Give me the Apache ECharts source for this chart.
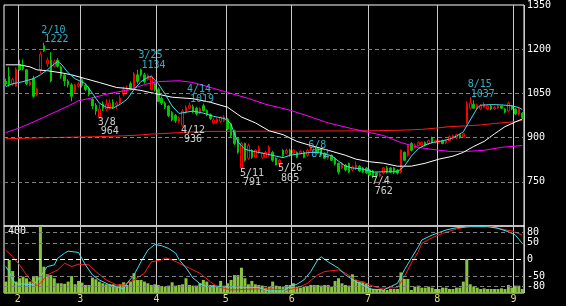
<!DOCTYPE html>
<html><head><meta charset="utf-8">
<script src="https://cdn.jsdelivr.net/npm/echarts@6/dist/echarts.min.js"></script>
<style>html,body{margin:0;padding:0;background:#000;}#c{width:566px;height:306px;}</style>
</head><body><div id="c"></div>
<script>
// Trading days shown (month -> day numbers)
const tradingDays = [
  [1, [26,27,28,31]],
  [2, [1,2,3,4,7,8,9,10,14,15,16,17,18,21,22,24,25,28]],
  [3, [1,2,3,4,7,8,9,10,11,14,15,16,17,18,22,23,24,25,28,29,30,31]],
  [4, [1,4,5,6,7,8,11,12,13,14,15,18,19,20,21,22,25,26,27,28]],
  [5, [2,6,9,10,11,12,13,16,17,18,19,20,23,24,25,26,27,30,31]],
  [6, [1,2,3,6,7,8,9,10,13,14,15,16,17,20,21,22,23,24,27,28,29,30]],
  [7, [1,4,5,6,7,8,11,12,13,14,15,19,20,21,22,25,26,27,28,29]],
  [8, [1,2,3,4,5,8,9,10,12,15,16,17,18,19,22,23,24,25,26,29,30,31]],
  [9, [1,2,5]]
];
const dates = [];
tradingDays.forEach(([m, ds]) => ds.forEach(d => dates.push(m + '/' + d)));

const opens = [1092,1107,1080,1075,1148,1145,1130,1080,1100,1045,1130,1212,1150,1163,1142,1163,1140,1112,1092,1079,1055,1075,1097,1077,1067,1030,1010,970,1013,997,1000,1020,1010,1017,1047,1060,1083,1067,1113,1130,1113,1097,1063,1083,1063,1033,1017,1007,985,975,955,942,985,1000,1005,1000,985,1008,992,978,950,952,955,958,963,947,923,897,797,880,830,857,833,850,833,833,840,850,830,808,857,847,857,847,850,847,850,840,857,853,863,857,847,830,840,830,813,797,807,813,790,797,803,797,797,790,787,780,770,780,797,797,797,790,783,850,840,880,867,873,873,883,880,900,883,883,890,883,890,897,900,910,903,950,1000,1013,1000,997,1003,997,1007,997,1000,1007,997,990,1007,997,980,983];
const closes = [1082,1080,1097,1133,1130,1133,1082,1090,1040,1065,1183,1195,1163,1092,1157,1142,1108,1092,1080,1040,1078,1082,1077,1063,1047,1007,990,997,1000,1013,1017,1003,1017,1033,1063,1067,1063,1117,1090,1113,1090,1110,1107,1063,1023,1017,1003,975,960,958,965,990,1003,1010,988,980,998,992,978,965,960,962,968,970,930,907,880,850,880,823,873,833,857,863,847,850,867,823,807,823,840,857,840,857,833,853,833,857,867,867,850,840,830,840,823,810,783,813,790,783,800,807,787,783,780,773,770,770,777,797,783,783,783,780,857,823,873,857,873,883,883,873,890,883,890,890,880,890,903,907,910,900,913,1013,1017,1000,1010,1007,1013,1007,997,1003,1007,1000,987,1017,997,980,997,967];
const lows = [1075,1073,1075,1072,1127,1128,1078,1075,1035,1040,1117,1190,1140,1088,1138,1138,1100,1075,1070,1023,1050,1070,1070,1057,1040,997,977,964,990,990,995,997,997,1010,1040,1050,1060,1063,1083,1107,1083,1093,1060,1057,1020,1010,997,970,955,950,948,936,980,995,983,975,980,988,973,960,945,948,950,953,925,900,875,845,791,818,825,828,830,845,828,830,835,818,806,805,835,843,835,843,830,843,830,835,853,850,845,835,827,825,820,805,775,793,785,780,785,790,783,780,777,770,762,765,765,775,778,780,777,775,778,820,835,853,862,870,868,870,875,880,880,878,877,878,887,893,895,897,900,945,995,997,995,993,1000,993,993,993,997,997,983,985,993,977,975,963];
const highs = [1100,1140,1102,1138,1164,1165,1133,1095,1110,1070,1193,1222,1172,1190,1165,1170,1145,1118,1098,1085,1082,1090,1103,1083,1073,1037,1017,1013,1023,1030,1030,1030,1023,1043,1073,1077,1090,1123,1130,1134,1120,1117,1113,1090,1070,1040,1023,1010,990,980,972,997,1010,1019,1012,1005,1003,1015,996,982,966,968,972,976,967,950,927,900,885,883,880,860,860,873,850,855,873,855,833,827,860,862,862,860,853,857,855,862,872,870,867,860,850,845,843,833,815,817,810,815,805,820,807,800,800,793,790,783,780,800,803,800,800,793,860,853,877,885,880,887,887,887,893,903,893,893,893,893,907,910,913,913,917,1023,1037,1027,1015,1013,1020,1010,1010,1007,1010,1010,1000,1023,1010,1000,1003,987];
const volumes = [68,197,131,68,88,98,88,68,101,101,400,157,112,107,88,58,58,55,68,101,52,72,62,48,48,92,82,68,58,52,52,52,44,52,64,48,68,118,78,78,68,58,48,52,48,42,38,44,64,44,48,52,88,48,44,44,58,78,68,48,48,44,72,44,58,78,107,107,151,88,52,72,52,48,44,32,38,68,44,38,38,48,48,58,38,32,38,42,48,48,48,44,48,48,38,72,88,58,48,44,112,78,68,68,58,32,24,24,24,18,18,24,24,24,123,84,84,18,38,44,32,32,38,32,24,24,32,32,24,24,32,32,68,203,52,38,32,24,28,24,24,24,24,28,24,48,32,44,44,24];

// Moving averages: [dayIndex, price]
const ma5 = [[0,1073],[2,1083],[5,1090],[8,1100],[10,1113],[12,1130],[14,1150],[15,1158],[16,1150],[18,1120],[20,1100],[23,1083],[25,1050],[27,1017],[29,1003],[31,1000],[33,1013],[35,1030],[37,1063],[39,1090],[41,1105],[42,1107],[44,1083],[46,1047],[48,1007],[50,982],[54,990],[57,983],[60,972],[63,965],[64,958],[65,945],[66,912],[67,885],[69,860],[72,852],[75,845],[78,837],[80,832],[82,840],[86,847],[88,850],[91,848],[94,838],[96,820],[98,803],[100,797],[103,793],[106,783],[109,784],[113,784],[115,803],[117,837],[119,862],[121,875],[123,883],[126,889],[128,895],[130,905],[132,920],[134,960],[136,1000],[137,1010],[140,1012],[143,1011],[146,1008],[148,1002],[149,995]];
const ma25 = [[0,1147],[4,1147],[7,1140],[9,1130],[12,1127],[16,1120],[19,1113],[23,1100],[27,1087],[32,1070],[35,1067],[39,1060],[44,1047],[48,1037],[54,1032],[59,1020],[64,1003],[68,970],[72,950],[76,923],[80,910],[84,887],[88,873],[93,857],[98,840],[101,827],[105,818],[109,813],[113,803],[117,803],[121,813],[125,827],[129,837],[132,850],[135,870],[138,887],[141,913],[144,937],[147,953],[149,963]];
const ma75 = [[0,917],[4,933],[8,953],[13,980],[18,1007],[21,1025],[25,1035],[30,1050],[36,1063],[40,1080],[44,1090],[50,1093],[54,1087],[60,1067],[64,1053],[70,1033],[75,1013],[82,993],[88,970],[93,950],[100,930],[105,917],[109,907],[114,883],[119,867],[123,860],[128,853],[133,853],[138,857],[143,867],[149,873]];
const ma200 = [[0,896],[6,898],[13,900],[26,903],[34,906],[39,909],[42,912],[49,916],[53,919],[58,921],[79,922],[105,923],[114,925],[120,928],[124,932],[128,937],[133,940],[137,943],[141,948],[146,953],[149,958]];

// Oscillator: [dayIndex, value]
const oscFast = [[0,-21],[1,-36],[2,-61],[3,-73],[5,-73],[8,-76],[10,-51],[12,-21],[14,-16],[15,4],[17,19],[18,25],[21,21],[23,-16],[25,-46],[27,-61],[30,-76],[32,-81],[34,-88],[35,-71],[37,-46],[39,-7],[41,28],[43,45],[45,41],[47,33],[49,19],[50,0],[52,-25],[54,-55],[56,-72],[58,-81],[63,-81],[73,-84],[76,-94],[80,-94],[82,-81],[84,-74],[86,-61],[88,-36],[90,-1],[91,8],[93,-7],[96,-26],[98,-46],[101,-66],[104,-81],[105,-88],[109,-91],[111,-81],[113,-71],[115,-31],[117,4],[119,38],[120,58],[123,73],[127,88],[130,95],[134,98],[139,98],[142,93],[145,83],[147,73],[149,48]];
const oscSlow = [[0,28],[2,8],[4,-16],[6,-46],[8,-71],[9,-78],[10,-71],[12,-46],[15,-31],[17,-11],[19,-21],[21,-14],[24,-16],[26,-36],[29,-61],[32,-76],[34,-76],[37,-61],[40,-41],[42,-7],[45,-1],[46,5],[48,-1],[50,-11],[53,-26],[56,-41],[59,-66],[61,-81],[65,-91],[72,-88],[76,-88],[81,-91],[84,-86],[87,-71],[90,-46],[92,-36],[96,-31],[98,-41],[101,-61],[104,-71],[105,-76],[108,-86],[113,-84],[115,-51],[117,-11],[119,23],[120,48],[123,65],[126,78],[130,91],[133,98],[140,98],[143,91],[146,85],[149,73]];

const priceTicks = [750, 900, 1050, 1200, 1350];
const oscTicks = [80, 50, 0, -50, -80];
const volumeTick = 400;
// [date, price, kind]
const extremes = [['2/10',1222,'H'],['3/8',964,'L'],['3/25',1134,'H'],['4/12',936,'L'],['4/14',1019,'H'],['5/11',791,'L'],['5/26',805,'L'],['6/8',872,'H'],['7/4',762,'L'],['8/15',1037,'H']];

// ---- styles ----
const mono = 'DejaVu Sans Mono';
const labelPlace = { H: {dx:-2, dy:-17, color:'#40d8f8'}, L: {dx:-1, dy:-1, color:'#ffffff'} };
const labelNudge = { '6/8': {dy:12} };

const monthStart = new Set();
dates.forEach((d, i) => { if (i > 0 && d.split('/')[0] !== dates[i-1].split('/')[0]) monthStart.add(i); });
const isMonthStart = (i) => monthStart.has(i);

function xAxis(gi) {
  return {
    type: 'category', gridIndex: gi, data: dates, boundaryGap: true,
    axisLine: {show: false}, axisTick: {show: false},
    axisLabel: {show: gi === 1, interval: isMonthStart, formatter: v => v.split('/')[0],
      color: '#e8dc8c', fontFamily: mono, fontSize: 10, margin: 1, padding: [0, 3.5, 0, 0]},
    splitLine: {show: true, interval: isMonthStart, lineStyle: {color: '#c8c8c8', width: 1}}
  };
}
function lineSeries(data, color, xi, yi) {
  return {type: 'line', xAxisIndex: xi, yAxisIndex: yi, data: data, showSymbol: false, symbol: 'none',
    lineStyle: {color: color, width: 1}, itemStyle: {color: color}, silent: true, z: 3};
}

const option = {
  backgroundColor: '#000',
  animation: false,
  grid: [
    {left: 4, top: 2, width: 520, height: 224, show: true, borderColor: '#ffffff', borderWidth: 1, backgroundColor: 'transparent'},
    {left: 4, top: 226, width: 520, height: 67, show: true, borderColor: '#ffffff', borderWidth: 1, backgroundColor: 'transparent'}
  ],
  xAxis: [xAxis(0), xAxis(1)],
  yAxis: [
    {type: 'value', gridIndex: 0, position: 'right', min: 600, max: 1350, interval: 150,
      axisLine: {show: false}, axisTick: {show: false}, splitLine: {show: false},
      axisLabel: {color: '#fff', fontFamily: mono, fontSize: 10, margin: 3, padding: [5, 0, 0, 0],
        formatter: v => priceTicks.includes(v) ? String(v) : ''}},
    {type: 'value', gridIndex: 1, position: 'right', min: -100, max: 100, interval: 10,
      axisLine: {show: false}, axisTick: {show: false}, splitLine: {show: false},
      axisLabel: {color: '#fff', fontFamily: mono, fontSize: 10, margin: 3,
        formatter: v => oscTicks.includes(v) ? String(v) : ''}},
    {type: 'value', gridIndex: 1, position: 'left', min: 0, max: volumeTick, interval: volumeTick,
      axisLine: {show: false}, axisTick: {show: false}, splitLine: {show: false},
      axisLabel: {inside: true, color: '#fff', fontFamily: mono, fontSize: 10, margin: 4, verticalAlign: 'top',
        formatter: v => v === volumeTick ? String(v) : ''}}
  ],
  series: [
    {type: 'line', xAxisIndex: 0, yAxisIndex: 0, data: [], silent: true, z: 1,
      markLine: {silent: true, symbol: ['none', 'none'], label: {show: false}, animation: false,
        lineStyle: {color: '#808080', type: [4, 3], width: 1},
        data: priceTicks.filter(v => v < 1350).map(v => ({yAxis: v}))}},
    {type: 'candlestick', xAxisIndex: 0, yAxisIndex: 0, barWidth: 2, z: 2,
      data: dates.map((_, i) => [opens[i], closes[i], lows[i], highs[i]]),
      itemStyle: {color: '#000000', color0: '#00c800', borderColor: '#ff0000', borderColor0: '#00c800', borderWidth: 1}},
    lineSeries(ma200, '#ff1a1a', 0, 0),
    lineSeries(ma75, '#ff00ff', 0, 0),
    lineSeries(ma25, '#ffffff', 0, 0),
    lineSeries(ma5, '#40e0f0', 0, 0),
    {type: 'scatter', xAxisIndex: 0, yAxisIndex: 0, symbolSize: 1, silent: true, z: 10,
      itemStyle: {color: 'rgba(0,0,0,0)'},
      data: extremes.map(([d, v, k]) => {
        const p = labelPlace[k], n = labelNudge[d] || {};
        return {value: [dates.indexOf(d), v], label: {
          show: true, position: [p.dx + (n.dx || 0), p.dy + (n.dy || 0)], align: 'left', verticalAlign: 'top',
          formatter: '{d|' + d + '}\n{v|' + v + '}',
          rich: {d: {color: p.color, fontFamily: mono, fontSize: 10, lineHeight: 9.5},
                 v: {color: p.color, fontFamily: mono, fontSize: 10, lineHeight: 9.5, padding: [0, 0, 0, 3]}}}};
      })},
    {type: 'bar', xAxisIndex: 1, yAxisIndex: 2, data: volumes, barWidth: 3, silent: true, z: 2,
      itemStyle: {color: '#88c43c'}},
    {type: 'line', xAxisIndex: 1, yAxisIndex: 1, data: [], silent: true, z: 2,
      markLine: {silent: true, symbol: ['none', 'none'], label: {show: false}, animation: false,
        data: oscTicks.map(v => ({yAxis: v, lineStyle: v === 0 ? {color: '#ffffff', type: [5, 3], width: 1} : {color: '#808080', type: [4, 3], width: 1}}))}},
    lineSeries(oscSlow, '#ff1a1a', 1, 1),
    lineSeries(oscFast, '#40e0f0', 1, 1)
  ]
};
const chart = echarts.init(document.getElementById('c'), null, {renderer: 'canvas'});
chart.setOption(option);
</script>
</body></html>
